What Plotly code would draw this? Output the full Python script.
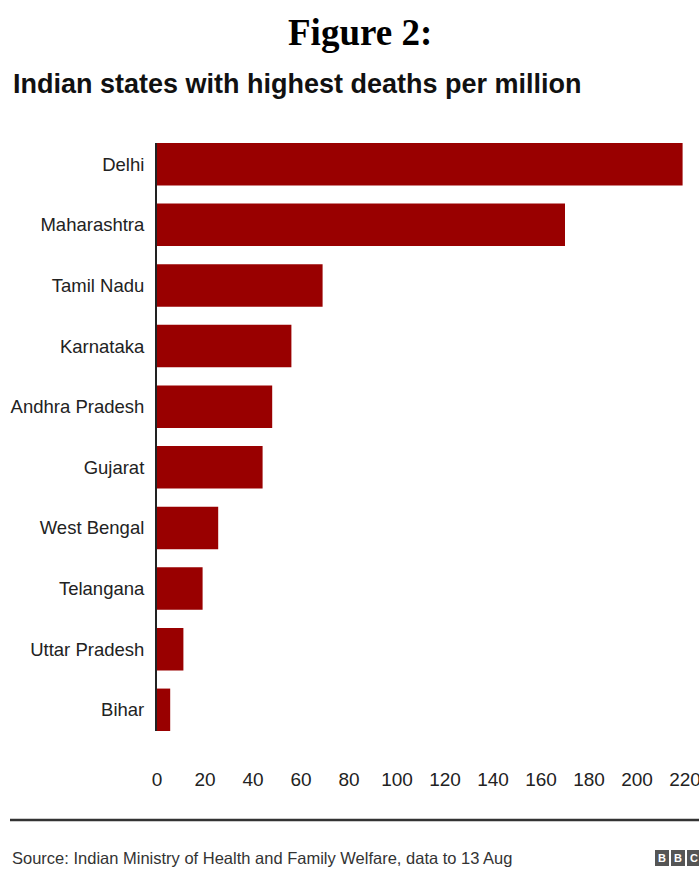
import plotly.graph_objects as go

states = ["Delhi", "Maharashtra", "Tamil Nadu", "Karnataka", "Andhra Pradesh",
          "Gujarat", "West Bengal", "Telangana", "Uttar Pradesh", "Bihar"]
deaths_per_million = [219, 170, 69, 56, 48, 44, 25.5, 19, 11, 5.5]
tick_values = [0, 20, 40, 60, 80, 100, 120, 140, 160, 180, 200, 220]
tick_labels = ["0", "20", "40", "60", "80", "100", "120", "140", "160", "180", "200", "220"]

W, H = 699, 877
L, R, T, B = 157, 0, 143, 146
PW, PH = W - L - R, H - T - B

def px(x):
    return (x - L) / PW

def py(y):
    return (H - B - y) / PH

SANS = "Liberation Sans, Arial, Helvetica, sans-serif"
BAR = "#990000"

fig = go.Figure(go.Bar(
    x=deaths_per_million, y=states, orientation="h",
    marker=dict(color=BAR, line=dict(width=0)), width=0.7,
))

fig.update_layout(
    width=W, height=H,
    margin=dict(l=L, r=R, t=T, b=B, pad=0),
    paper_bgcolor="white", plot_bgcolor="white",
    showlegend=False,
    font=dict(family=SANS, color="#222222"),
    xaxis=dict(range=[0, PW / 2.4], tickvals=tick_values, ticktext=tick_labels,
               showgrid=False, zeroline=False, showline=False, automargin=False,
               ticks="", ticklabelstandoff=35, ticklabeloverflow="allow",
               tickfont=dict(family=SANS, size=19, color="#222222")),
    yaxis=dict(categoryorder="array", categoryarray=states,
               range=[9.35, -0.35], showgrid=False, zeroline=False, automargin=False,
               showline=True, linecolor="#222222", linewidth=2,
               ticks="", ticklabelstandoff=7, ticklabeloverflow="allow",
               tickfont=dict(family=SANS, size=18.5, color="#222222")),
)

anns = [
    dict(text="<b>Figure 2:</b>", x=px(360), y=py(33), xanchor="center", yanchor="middle",
         font=dict(family="Liberation Serif, Times New Roman, serif", size=37, color="black")),
    dict(text="<b>Indian states with highest deaths per million</b>", x=px(11), y=py(84),
         xanchor="left", yanchor="middle",
         font=dict(family=SANS, size=27, color="#111111")),
    dict(text="Source: Indian Ministry of Health and Family Welfare, data to 13 Aug",
         x=px(10), y=py(858), xanchor="left", yanchor="middle",
         font=dict(family=SANS, size=16.5, color="#333333")),
]
for i, letter in enumerate(["B", "B", "C"]):
    anns.append(dict(text=f"<b>{letter}</b>", x=px(662 + i * 16), y=py(858),
                     xanchor="center", yanchor="middle",
                     font=dict(family=SANS, size=11, color="white")))
for a in anns:
    a.update(xref="paper", yref="paper", showarrow=False)
fig.update_layout(annotations=anns)

shapes = [dict(type="line", xref="paper", yref="paper", x0=px(10), x1=px(699),
               y0=py(820), y1=py(820), line=dict(color="#333333", width=2.5))]
for i in range(3):
    shapes.append(dict(type="rect", xref="paper", yref="paper",
                       x0=px(655 + i * 16), x1=px(669 + i * 16), y0=py(866), y1=py(850),
                       fillcolor="#555555", line=dict(width=0), layer="below"))
fig.update_layout(shapes=shapes)

fig.write_html("out.html")
